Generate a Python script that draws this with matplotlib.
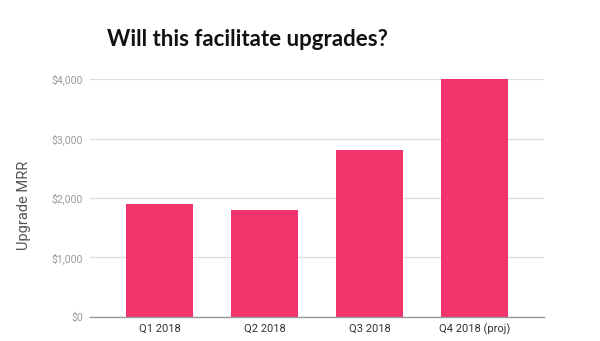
import matplotlib
matplotlib.use("Agg")
import matplotlib.pyplot as plt
from matplotlib.ticker import FuncFormatter

quarters = ["Q1 2018", "Q2 2018", "Q3 2018", "Q4 2018 (proj)"]
upgrade_mrr = [1900, 1800, 2800, 4000]
y_ticks = [0, 1000, 2000, 3000, 4000]

fig = plt.figure(figsize=(6.0, 3.41), dpi=100)
ax = fig.add_axes([0.15, 0.0704, 0.757, 0.6979])

x = range(len(quarters))
ax.bar(x, upgrade_mrr, width=0.64, color="#F2346D", zorder=3)

ax.set_xlim(-0.667, len(quarters) - 1 + 0.667)
ax.set_ylim(0, 4000)
ax.set_yticks(y_ticks)
ax.yaxis.set_major_formatter(FuncFormatter(lambda v, p: f"${v:,.0f}"))
ax.set_xticks(list(x))
ax.set_xticklabels(quarters)

ax.grid(axis="y", color="#dddddd", linewidth=0.9, zorder=0)
for side in ["top", "right", "left"]:
    ax.spines[side].set_visible(False)
ax.spines["bottom"].set_color("#999999")
ax.spines["bottom"].set_linewidth(1.0)
ax.spines["bottom"].set_zorder(4)

ax.tick_params(axis="y", length=0, pad=5, labelsize=7.5, labelcolor="#9a9a9a")
ax.tick_params(axis="x", length=0, pad=5, labelsize=8, labelcolor="#333333")
for lbl in ax.get_yticklabels() + ax.get_xticklabels():
    lbl.set_family("Roboto")

ax.set_ylabel("Upgrade MRR", family="Roboto", fontsize=10.5, color="#555555")
ax.yaxis.set_label_coords(-0.13, 0.47)

fig.text(0.412, 0.885, "Will this facilitate upgrades?", ha="center", va="center",
         family="Lato", fontweight="bold", fontsize=16, color="#111111")

fig.savefig("out.png", dpi=100, facecolor="white")
